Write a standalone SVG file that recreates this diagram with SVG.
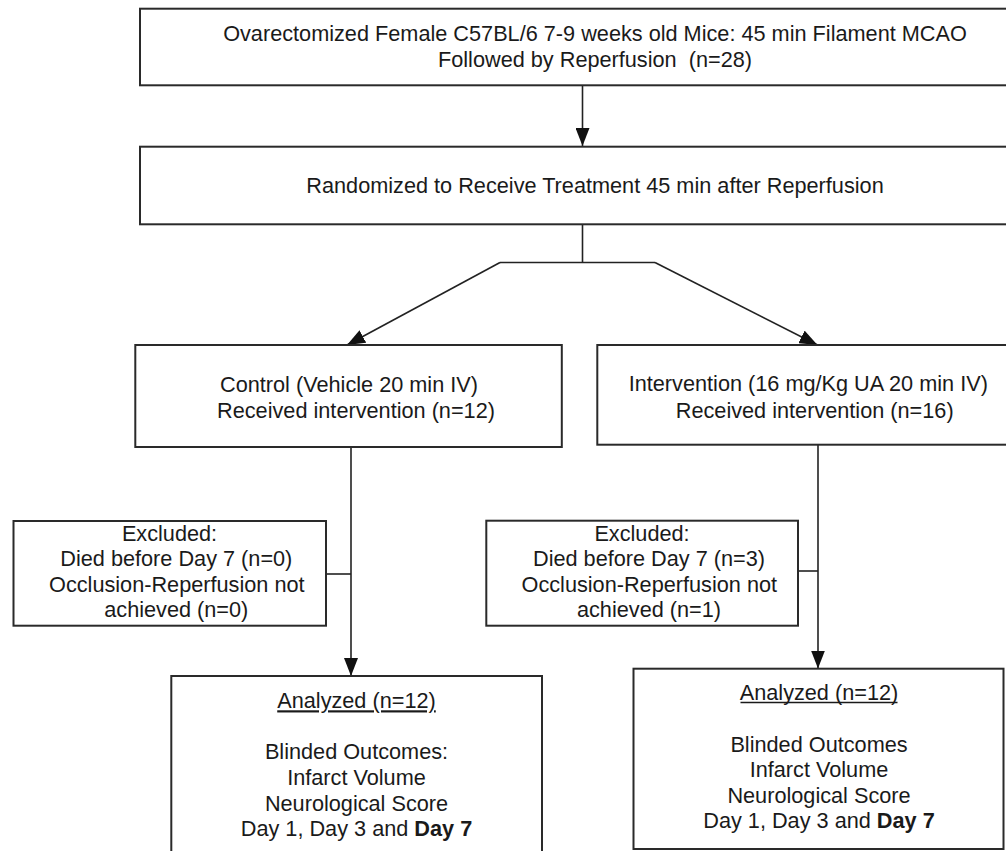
<svg xmlns="http://www.w3.org/2000/svg" width="1006" height="851" viewBox="0 0 1006 851">
<style>
  .box { fill: #ffffff; stroke: #2a2a2a; stroke-width: 2; }
  .t { font-family: "Liberation Sans", Arial, sans-serif; font-size: 21.7px; fill: #1a1a1a; text-anchor: middle; }
  .conn { fill: none; stroke: #222222; stroke-width: 1.6; }
</style>
<defs>
  <marker id="arr" markerUnits="userSpaceOnUse" markerWidth="20" markerHeight="14" refX="18" refY="7" orient="auto">
    <path d="M0,0 L18,7 L0,14 Z" fill="#111111"/>
  </marker>
</defs>
<rect width="1006" height="851" fill="#ffffff"/>

<g id="connectors">
  <path class="conn" d="M582.5,86 V146" marker-end="url(#arr)"/>
  <path class="conn" d="M582.5,224.5 V262.5 M500,262.5 H655"/>
  <path class="conn" d="M500,262.5 L347,345" marker-end="url(#arr)"/>
  <path class="conn" d="M655,262.5 L817.5,345" marker-end="url(#arr)"/>
  <path class="conn" d="M351,447 V676" marker-end="url(#arr)"/>
  <path class="conn" d="M818,445 V668.5" marker-end="url(#arr)"/>
  <path class="conn" d="M326,574 H351"/>
  <path class="conn" d="M798,571 H818"/>
</g>

<g id="enrolled">
  <rect class="box" x="140" y="8.7" width="910" height="76.6"/>
  <text class="t" x="595" y="40.7">Ovarectomized Female C57BL/6 7-9 weeks old Mice: 45 min Filament MCAO</text>
  <text class="t" x="595" y="67">Followed by Reperfusion&#160; (n=28)</text>
</g>

<g id="randomized">
  <rect class="box" x="140" y="146.7" width="910" height="77.6"/>
  <text class="t" x="595" y="192.7">Randomized to Receive Treatment 45 min after Reperfusion</text>
</g>

<g id="control">
  <rect class="box" x="135.3" y="345" width="426.5" height="102"/>
  <text class="t" x="349" y="391.7">Control (Vehicle 20 min IV)</text>
  <text class="t" x="356" y="418.3">Received intervention (n=12)</text>
</g>

<g id="intervention">
  <rect class="box" x="597.3" y="345" width="422" height="99.7"/>
  <text class="t" x="808.3" y="391">Intervention (16 mg/Kg UA 20 min IV)</text>
  <text class="t" x="814.7" y="417.5">Received intervention (n=16)</text>
</g>

<g id="excluded-control">
  <rect class="box" x="13.5" y="521" width="312.5" height="104.7"/>
  <text class="t" x="169.5" y="540.5">Excluded:</text>
  <text class="t" x="176.3" y="566">Died before Day 7 (n=0)</text>
  <text class="t" x="176.8" y="591.7">Occlusion-Reperfusion not</text>
  <text class="t" x="176.3" y="617.3">achieved (n=0)</text>
</g>

<g id="excluded-intervention">
  <rect class="box" x="486.3" y="520.7" width="311.7" height="105"/>
  <text class="t" x="642" y="540.7">Excluded:</text>
  <text class="t" x="649" y="566">Died before Day 7 (n=3)</text>
  <text class="t" x="649.3" y="591.7">Occlusion-Reperfusion not</text>
  <text class="t" x="649" y="617.3">achieved (n=1)</text>
</g>

<g id="analyzed-control">
  <rect class="box" x="171.3" y="676" width="370.7" height="190"/>
  <text class="t" x="356.5" y="708.3" text-decoration="underline">Analyzed (n=12)</text>
  <text class="t" x="356.5" y="759.3">Blinded Outcomes:</text>
  <text class="t" x="356.5" y="785">Infarct Volume</text>
  <text class="t" x="356.5" y="810.7">Neurological Score</text>
  <text class="t" x="356.5" y="836">Day 1, Day 3 and <tspan font-weight="bold">Day 7</tspan></text>
</g>

<g id="analyzed-intervention">
  <rect class="box" x="633.5" y="668.7" width="370" height="180.3"/>
  <text class="t" x="819" y="700">Analyzed (n=12)</text>
  <line x1="740.5" y1="702.5" x2="897.5" y2="702.5" stroke="#1a1a1a" stroke-width="1.4"/>
  <text class="t" x="819" y="751.7">Blinded Outcomes</text>
  <text class="t" x="819" y="777.3">Infarct Volume</text>
  <text class="t" x="819" y="802.7">Neurological Score</text>
  <text class="t" x="819" y="828.3">Day 1, Day 3 and <tspan font-weight="bold">Day 7</tspan></text>
</g>
</svg>
